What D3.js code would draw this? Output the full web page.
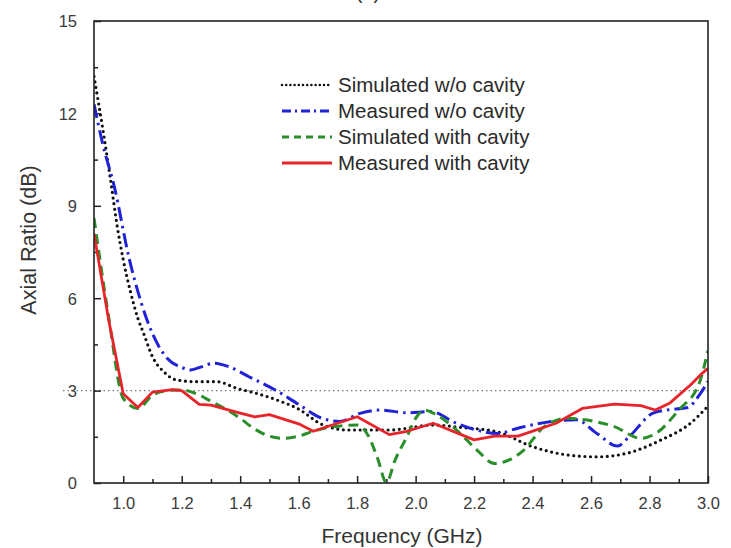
<!DOCTYPE html>
<html>
<head>
<meta charset="utf-8">
<script src="https://cdn.jsdelivr.net/npm/d3@7"></script>
<style>
  html, body { margin: 0; padding: 0; background: #ffffff; }
  svg { display: block; font-family: "Liberation Sans", Arial, sans-serif; }
</style>
</head>
<body>
<svg id="chart" width="731" height="548"></svg>
<script>
// ---- Data ----
const simNoCavityF = [0.9, 0.93, 0.955, 0.98, 1.0, 1.025, 1.05, 1.07, 1.1, 1.14, 1.18, 1.25, 1.32, 1.39, 1.46, 1.53, 1.6, 1.68, 1.77, 1.91, 2.06, 2.16, 2.28, 2.4, 2.52, 2.62, 2.72, 2.84, 2.94, 3.0];
const simNoCavityV = [13.2, 11.5, 9.95, 8.3, 7.25, 6.2, 5.35, 4.85, 4.1, 3.6, 3.35, 3.29, 3.29, 3.07, 2.9, 2.68, 2.4, 1.9, 1.72, 1.72, 1.88, 1.8, 1.66, 1.18, 0.91, 0.85, 0.96, 1.4, 1.94, 2.5];

const measNoCavityF = [0.9, 0.93, 0.97, 1.02, 1.06, 1.1, 1.15, 1.2, 1.23, 1.27, 1.31, 1.36, 1.43, 1.52, 1.6, 1.68, 1.74, 1.81, 1.88, 1.97, 2.05, 2.14, 2.23, 2.28, 2.35, 2.46, 2.55, 2.62, 2.69, 2.73, 2.81, 2.86, 2.93, 2.97, 3.0];
const measNoCavityV = [12.3, 11.0, 9.6, 7.3, 5.9, 4.85, 4.05, 3.75, 3.67, 3.78, 3.89, 3.78, 3.45, 3.02, 2.55, 2.1, 2.0, 2.26, 2.37, 2.28, 2.32, 1.94, 1.67, 1.61, 1.78, 1.99, 2.05, 1.61, 1.2, 1.5, 2.26, 2.37, 2.45, 2.85, 3.3];

const simCavityF = [0.9, 0.95, 1.0, 1.05, 1.1, 1.15, 1.2, 1.25, 1.3, 1.35, 1.4, 1.45, 1.5, 1.55, 1.6, 1.65, 1.72, 1.8, 1.84, 1.87, 1.9, 1.93, 1.97, 2.0, 2.03, 2.07, 2.14, 2.21, 2.27, 2.32, 2.37, 2.44, 2.52, 2.58, 2.68, 2.77, 2.82, 2.9, 2.97, 3.0];
const simCavityV = [8.6, 5.4, 2.75, 2.42, 2.85, 3.0, 3.02, 2.9, 2.65, 2.4, 2.1, 1.75, 1.52, 1.45, 1.52, 1.68, 1.83, 1.88, 1.5, 0.8, 0.02, 0.75, 1.5, 2.1, 2.37, 2.22, 1.72, 1.07, 0.63, 0.75, 1.07, 1.83, 2.1, 2.05, 1.83, 1.45, 1.6, 2.37, 3.24, 4.3];

const measCavityF = [0.9, 0.95, 1.0, 1.05, 1.1, 1.17, 1.2, 1.26, 1.3, 1.4, 1.45, 1.5, 1.6, 1.65, 1.8, 1.91, 1.97, 2.06, 2.2, 2.27, 2.35, 2.48, 2.57, 2.68, 2.77, 2.82, 2.87, 2.94, 2.98, 3.0];
const measCavityV = [8.1, 5.3, 2.9, 2.45, 2.95, 3.03, 3.0, 2.55, 2.53, 2.27, 2.15, 2.22, 1.92, 1.68, 2.15, 1.57, 1.68, 1.94, 1.4, 1.52, 1.52, 1.94, 2.42, 2.56, 2.51, 2.37, 2.6, 3.18, 3.56, 3.72];

const seriesNames = ["Simulated w/o cavity", "Measured w/o cavity", "Simulated with cavity", "Measured with cavity"];
const xTickValues = [1.0, 1.2, 1.4, 1.6, 1.8, 2.0, 2.2, 2.4, 2.6, 2.8, 3.0];
const xMinorTicks = [1.1, 1.3, 1.5, 1.7, 1.9, 2.1, 2.3, 2.5, 2.7, 2.9];
const yTickValues = [0, 3, 6, 9, 12, 15];
const yMinorTicks = [1.5, 4.5, 7.5, 10.5, 13.5];
const refLevel = 3;

// ---- Layout ----
const svg = d3.select("#chart");
const L = 94, R = 708, T = 21, B = 483;
const x = d3.scaleLinear().domain([0.9, 3.0]).range([L, R]);
const y = d3.scaleLinear().domain([0, 15]).range([B, T]);

const styles = [
  { color: "#111111", width: 3.2, dash: "0,5.6", cap: "round", curve: d3.curveMonotoneX },
  { color: "#1f22d6", width: 3, dash: "14,5,2.5,5", cap: "butt", curve: d3.curveMonotoneX },
  { color: "#2a8f2a", width: 3, dash: "10,6", cap: "butt", curve: d3.curveMonotoneX },
  { color: "#e8242a", width: 2.8, dash: null, cap: "butt", curve: d3.curveLinear }
];
const data = [
  d3.zip(simNoCavityF, simNoCavityV),
  d3.zip(measNoCavityF, measNoCavityV),
  d3.zip(simCavityF, simCavityV),
  d3.zip(measCavityF, measCavityV)
];

// partially visible panel label
svg.append("text").attr("x", 368).attr("y", -1).attr("text-anchor", "middle")
  .attr("font-size", 20).attr("fill", "#333").text("(b)");

// reference dotted line at 3 dB
svg.append("line").attr("x1", 63).attr("x2", R).attr("y1", y(refLevel)).attr("y2", y(refLevel))
  .attr("stroke", "#777").attr("stroke-width", 1.3).attr("stroke-dasharray", "1.5,3");

// axes ticks (inward)
const xAxisG = svg.append("g").attr("transform", `translate(0,${B})`)
  .call(d3.axisBottom(x).tickValues(xTickValues).tickSize(-7).tickPadding(14).tickFormat(d3.format(".1f")));
svg.append("g").attr("transform", `translate(0,${B})`)
  .call(d3.axisBottom(x).tickValues(xMinorTicks).tickSize(-4).tickFormat(""));
const yAxisG = svg.append("g").attr("transform", `translate(${L},0)`)
  .call(d3.axisLeft(y).tickValues(yTickValues).tickSize(-7).tickPadding(17).tickFormat(d3.format("d")));
svg.append("g").attr("transform", `translate(${L},0)`)
  .call(d3.axisLeft(y).tickValues(yMinorTicks).tickSize(-4).tickFormat(""));

svg.selectAll(".domain").remove();
svg.selectAll(".tick line").attr("stroke", "#222").attr("stroke-width", 1.5);
svg.selectAll(".tick text").attr("font-size", 16.5).attr("fill", "#3a3a3a")
  .attr("font-family", "'Liberation Sans', Arial, sans-serif");
yAxisG.selectAll(".tick text").attr("dy", "0.36em");

// series
const clipId = "plotclip";
svg.append("clipPath").attr("id", clipId).append("rect")
  .attr("x", L).attr("y", T - 2).attr("width", R - L).attr("height", B - T + 4);
const plotG = svg.append("g").attr("clip-path", `url(#${clipId})`);
data.forEach((pts, i) => {
  const s = styles[i];
  const line = d3.line().x(d => x(d[0])).y(d => y(d[1])).curve(s.curve);
  plotG.append("path").datum(pts).attr("d", line)
    .attr("fill", "none").attr("stroke", s.color).attr("stroke-width", s.width)
    .attr("stroke-linecap", s.cap).attr("stroke-linejoin", "round")
    .attr("stroke-dasharray", s.dash);
});

// frame
svg.append("rect").attr("x", L).attr("y", T).attr("width", R - L).attr("height", B - T)
  .attr("fill", "none").attr("stroke", "#222").attr("stroke-width", 1.6);

// legend
const legY = [85, 111, 137, 163];
const legendDash = ["0,4.2", "9,4,2,4", "7,5", null];
seriesNames.forEach((name, i) => {
  const s = styles[i];
  svg.append("line").attr("x1", 282).attr("x2", 332).attr("y1", legY[i]).attr("y2", legY[i])
    .attr("stroke", s.color).attr("stroke-width", i === 0 ? 2.6 : 3)
    .attr("stroke-linecap", s.cap).attr("stroke-dasharray", legendDash[i]);
  svg.append("text").attr("x", 338).attr("y", legY[i]).attr("dy", "0.36em")
    .attr("font-size", 20.5).attr("fill", "#2a2a2a").text(name);
});

// axis titles
svg.append("text").attr("x", 402).attr("y", 543).attr("text-anchor", "middle")
  .attr("font-size", 21).attr("fill", "#333").text("Frequency (GHz)");
svg.append("text").attr("transform", "translate(36,240) rotate(-90)").attr("text-anchor", "middle")
  .attr("font-size", 21.5).attr("fill", "#333").text("Axial Ratio (dB)");
</script>
</body>
</html>
